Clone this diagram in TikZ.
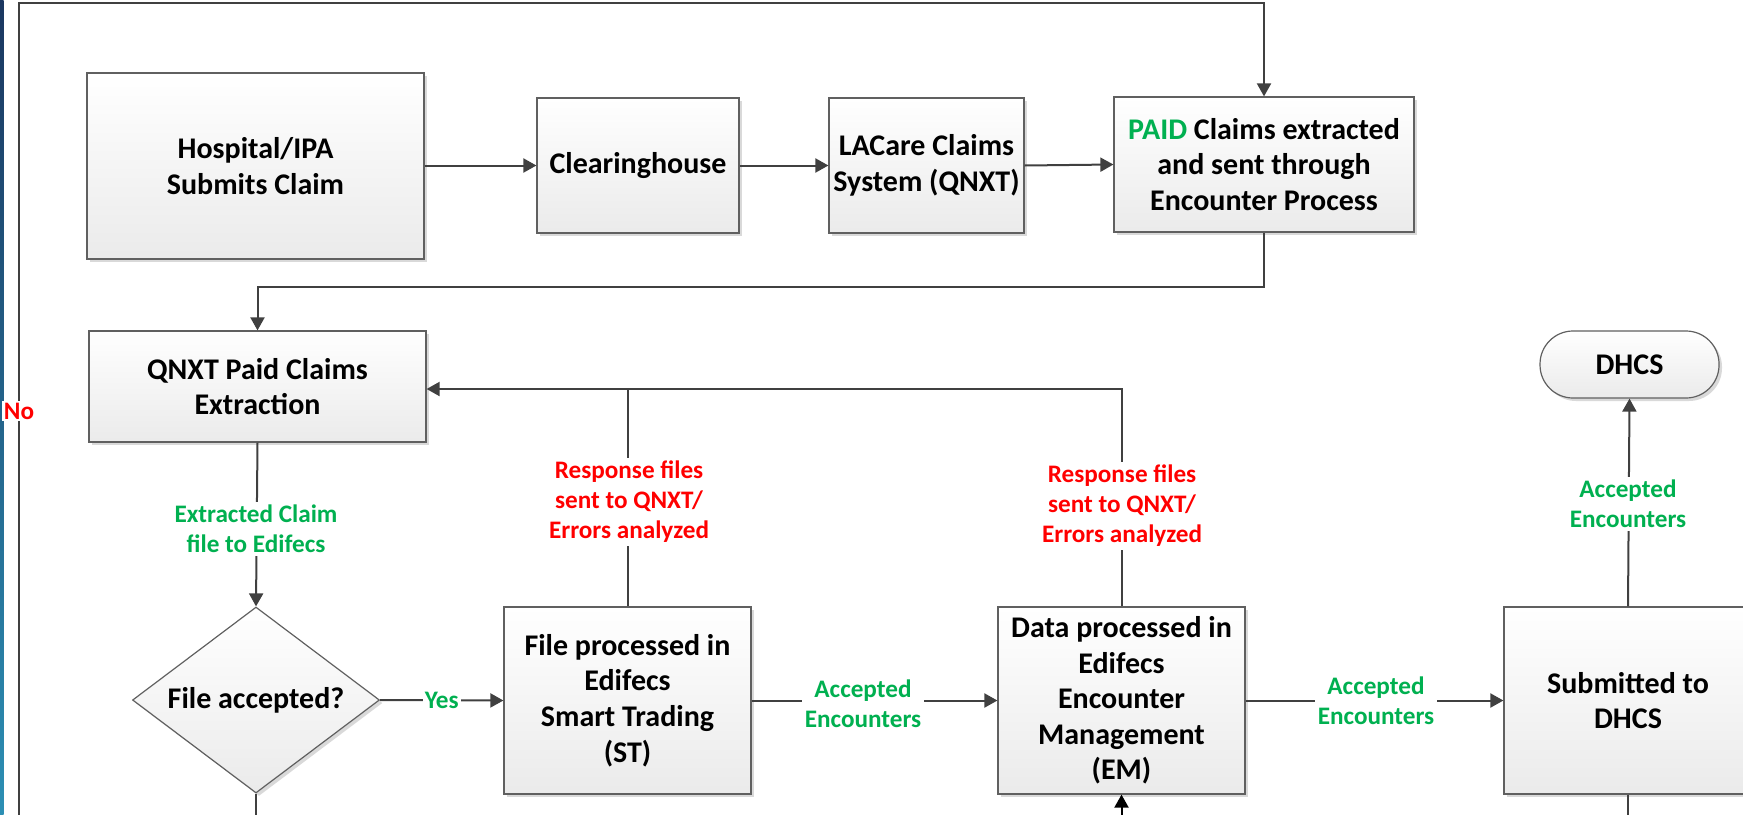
\documentclass[tikz,border=0pt]{standalone}
\usepackage{fontspec}
\setmainfont{Carlito}
\usetikzlibrary{arrows.meta,shapes.geometric,shadows,calc}
\definecolor{ln}{HTML}{404040}
\definecolor{bd}{HTML}{606060}
\definecolor{gr}{HTML}{00B050}
\definecolor{rd}{HTML}{FF0000}
\definecolor{navy}{HTML}{1B3760}
\definecolor{teal}{HTML}{2C8FB4}
\tikzset{
  x=0.5pt, y=-0.5pt,
  bfont/.style={font=\bfseries\fontsize{15}{17.8}\selectfont},
  base/.style={draw=bd, line width=0.6pt, top color=white, bottom color=black!8,
    align=center, inner sep=0pt, bfont,
    drop shadow={shadow xshift=1.5pt, shadow yshift=-1.5pt, opacity=0.15, fill=black}},
  box/.style={base, rectangle},
  dec/.style={base, diamond, aspect=1.33},
  term/.style={base, rectangle, rounded corners=16.5pt},
  conn/.style={draw=ln, line width=1pt},
  arr/.style={conn, -{Triangle[length=6.5pt,width=7pt]}},
  glab/.style={fill=white, inner sep=1.5pt, align=center, text=gr,
    font=\bfseries\fontsize{12.6}{15}\selectfont},
  rlab/.style={glab, text=rd},
}
\begin{document}
\begin{tikzpicture}
\useasboundingbox (0,0) rectangle (1743,814);
\clip (0,0) rectangle (1743,814);
\shade[top color=navy, bottom color=teal] (0,0) rectangle (3.5,814);

\node[box, minimum width=168.5pt, minimum height=93pt] (hosp) at (255.5,166) {Hospital/IPA\\Submits Claim};
\node[box, minimum width=101pt, minimum height=67.5pt] (clear) at (638,165.5) {Clearinghouse};
\node[box, minimum width=97.5pt, minimum height=67.5pt] (lac) at (926.5,165.5) {LACare Claims\\System (QNXT)};
\node[box, minimum width=150pt, minimum height=67.5pt] (paid) at (1264,164.5) {\textcolor{gr}{PAID} Claims extracted\\and sent through\\Encounter Process};
\node[box, minimum width=168.5pt, minimum height=55.5pt] (qnxt) at (257.5,386.5) {QNXT Paid Claims\\Extraction};
\node[dec, minimum width=123.5pt, minimum height=93pt] (dia) at (256,700) {};
\node[bfont, inner sep=0pt] (diat) at (dia.center) {File accepted?};
\node[box, minimum width=123.5pt, minimum height=93.5pt] (st) at (627.5,700.5) {File processed in\\Edifecs\\Smart Trading\\(ST)};
\node[box, minimum width=123.5pt, minimum height=93.5pt] (em) at (1121.5,700.5) {Data processed in\\Edifecs\\Encounter\\Management\\(EM)};
\node[box, minimum width=124pt, minimum height=93.5pt] (sub) at (1628,700.5) {Submitted to\\DHCS};
\node[term, minimum width=89.5pt, minimum height=33.5pt] (dhcs) at (1629.5,364.5) {DHCS};

\coordinate (bot) at (0,840);
\coordinate (tl) at (19,3);
\coordinate (nb) at (19,840);
\coordinate (y287) at (0,287);
\coordinate (y389) at (0,389);

% top row
\draw[arr] (hosp.east |- clear.west) -- (clear.west);
\draw[arr] (clear.east) -- (lac.west);
\draw[arr] (lac.east) -- (paid.west);
% big "No" loop
\draw[arr] (nb) -- (tl) -| (paid.north);
\node[rlab, inner sep=1pt] at (19,411) {No};
% paid -> qnxt
\draw[arr] (paid.south) -- (paid.south |- y287) -| (qnxt.north);
% qnxt -> diamond
\draw[arr] (qnxt.south) -- (dia.north);
\node[glab] at (256,529) {Extracted Claim\\file to Edifecs};
% diamond -> st
\draw[arr] (dia.east) -- node[glab, inner sep=1pt] {Yes} (st.west);
\draw[conn] (dia.south) -- (dia.south |- bot);
% st -> em
\draw[arr] (st.east) -- (em.west);
\node[glab] at (863,704) {Accepted\\Encounters};
% em -> sub
\draw[arr] (em.east) -- (sub.west);
\node[glab] at (1376,701) {Accepted\\Encounters};
% sub -> dhcs
\draw[arr] (sub.north) -- (dhcs.south);
\node[glab] at (1628,504) {Accepted\\Encounters};
\draw[conn] (sub.south) -- (sub.south |- bot);
% from below into em
\draw[arr, draw=black] (em.south |- bot) -- (em.south);
% feedback
\draw[conn] (st.north) -- (st.north |- y389);
\draw[arr] (em.north) -- (em.north |- y389) -- (qnxt.east |- y389);
\node[rlab] at (629,502) {Response files\\sent to QNXT/\\Errors analyzed};
\node[rlab] at (1122,506) {Response files\\sent to QNXT/\\Errors analyzed};
\end{tikzpicture}
\end{document}
